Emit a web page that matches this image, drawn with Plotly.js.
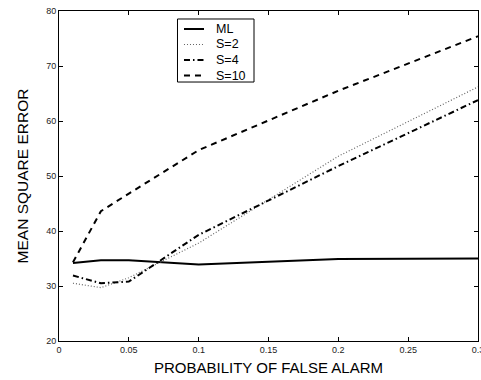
<!DOCTYPE html>
<html>
<head>
<meta charset="utf-8">
<script src="https://cdn.plot.ly/plotly-2.35.2.min.js"></script>
<style>html,body{margin:0;padding:0;background:#fff;}#chart{width:481px;height:380px;}</style>
</head>
<body>
<div id="chart"></div>
<script>
const pfa = [0.01, 0.03, 0.05, 0.1, 0.2, 0.3];
const mseML  = [34.2, 34.7, 34.7, 33.9, 34.9, 35.0];
const mseS2  = [30.5, 29.7, 31.5, 37.8, 53.6, 66.2];
const mseS4  = [31.9, 30.5, 30.8, 39.3, 51.8, 63.8];
const mseS10 = [34.3, 43.6, 46.8, 54.7, 65.5, 75.4];
const seriesNames = ['ML', 'S=2', 'S=4', 'S=10'];
const xTickVals = [0, 0.05, 0.1, 0.15, 0.2, 0.25, 0.3];
const xTickText = ['0', '0.05', '0.1', '0.15', '0.2', '0.25', '0.3'];
const yTickVals = [20, 30, 40, 50, 60, 70, 80];

const font = 'Liberation Sans, Arial, Helvetica, sans-serif';
const lineStyles = [
  {color: '#000', width: 2, dash: 'solid'},
  {color: '#666', width: 1.2, dash: '1px,2px'},
  {color: '#000', width: 2, dash: '6px,3px,1.5px,3px'},
  {color: '#000', width: 2, dash: '6px,5px'}
];
const seriesY = [mseML, mseS2, mseS4, mseS10];
const traces = seriesY.map((ys, i) => ({
  x: pfa, y: ys, name: seriesNames[i], mode: 'lines', line: lineStyles[i], showlegend: false
}));

// manual legend (box, line samples, labels) in paper coordinates
const legBox = {x0: 0.2828, x1: 0.4654, y0: 0.7848, y1: 0.9758};
const legSampleX = [0.2983, 0.3461];
const legTextX = 0.3699;
const legRowY = [0.9455, 0.8985, 0.8515, 0.8045];
const shapes = [{
  type: 'rect', xref: 'paper', yref: 'paper',
  x0: legBox.x0, x1: legBox.x1, y0: legBox.y0, y1: legBox.y1,
  line: {color: '#000', width: 1}, fillcolor: '#fff', layer: 'above'
}];
const annotations = [];
seriesNames.forEach((nm, i) => {
  shapes.push({
    type: 'line', xref: 'paper', yref: 'paper',
    x0: legSampleX[0], x1: legSampleX[1], y0: legRowY[i], y1: legRowY[i],
    line: lineStyles[i], layer: 'above'
  });
  annotations.push({
    xref: 'paper', yref: 'paper', x: legTextX, y: legRowY[i],
    xanchor: 'left', yanchor: 'middle', text: nm, showarrow: false,
    font: {family: font, size: 12.5, color: '#000'}
  });
});

const axisCommon = {
  showgrid: false, zeroline: false, showline: true, linecolor: '#000', linewidth: 1,
  mirror: 'ticks', ticks: 'inside', ticklen: 4, tickcolor: '#000',
  tickfont: {family: font, size: 9, color: '#222'}
};

const layout = {
  width: 481, height: 380,
  margin: {l: 59, r: 3, t: 11, b: 39},
  paper_bgcolor: '#fff', plot_bgcolor: '#fff',
  showlegend: false,
  shapes: shapes,
  annotations: annotations,
  xaxis: Object.assign({}, axisCommon, {
    range: [0, 0.3], tickvals: xTickVals, ticktext: xTickText,
    ticklabeloverflow: 'allow',
    title: {text: 'PROBABILITY OF FALSE ALARM', font: {family: font, size: 15, color: '#000'}, standoff: 8}
  }),
  yaxis: Object.assign({}, axisCommon, {
    range: [20, 80], tickvals: yTickVals,
    title: {text: 'MEAN SQUARE ERROR', font: {family: font, size: 15.5, color: '#000'}, standoff: 13}
  })
};

Plotly.newPlot('chart', traces, layout, {displayModeBar: false, staticPlot: true});
</script>
</body>
</html>
